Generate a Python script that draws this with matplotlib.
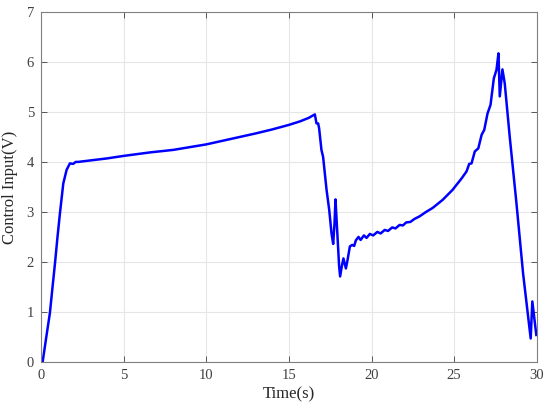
import matplotlib.pyplot as plt
import numpy as np

# time (s) and control input (V)
t = [0.1, 0.3, 0.54, 0.7, 0.85, 1.0, 1.15, 1.35, 1.55, 1.75, 1.95, 2.1, 2.26, 2.5, 3.0,
     4.0, 5.0, 6.6, 8.0, 10.0, 11.5, 13.0, 14.0, 15.0, 15.67, 16.2, 16.57,
     16.67, 16.77, 16.83, 16.97, 17.07, 17.28, 17.44, 17.58, 17.68, 17.76, 17.82,
     17.92, 18.04, 18.1, 18.2, 18.3, 18.45, 18.55, 18.69, 18.83, 18.95, 19.05,
     19.21, 19.34, 19.54, 19.7, 19.9, 20.1, 20.35, 20.55, 20.8, 21.0, 21.25,
     21.45, 21.7, 21.9, 22.1, 22.35, 22.6, 22.9, 23.3, 23.7,
     24.3, 24.9, 25.45, 25.75, 25.91, 26.05, 26.25, 26.46, 26.66, 26.82, 27.02,
     27.2, 27.4, 27.56, 27.68, 27.76, 27.92, 28.06, 28.36, 28.77, 29.17, 29.63,
     29.73, 29.97]
u = [0.0, 0.45, 0.98, 1.5, 1.98, 2.5, 2.98, 3.57, 3.84, 3.97, 3.96, 4.0, 4.0, 4.01, 4.03,
     4.07, 4.12, 4.19, 4.24, 4.35, 4.46, 4.57, 4.65, 4.74, 4.81, 4.88, 4.95,
     4.77, 4.77, 4.67, 4.24, 4.1, 3.44, 3.04, 2.57, 2.36, 2.77, 3.25,
     2.64, 1.91, 1.71, 1.91, 2.07, 1.87, 2.04, 2.31, 2.34, 2.32, 2.43,
     2.50, 2.44, 2.53, 2.48, 2.56, 2.53, 2.60, 2.57, 2.64, 2.62, 2.69,
     2.67, 2.74, 2.73, 2.79, 2.80, 2.86, 2.91, 3.0, 3.08,
     3.24, 3.44, 3.67, 3.81, 3.96, 3.97, 4.21, 4.27, 4.54, 4.64, 4.97,
     5.14, 5.67, 5.84, 6.17, 5.31, 5.85, 5.57, 4.51, 3.17, 1.77, 0.47,
     1.21, 0.54]

plt.rcParams['font.family'] = 'Liberation Serif'
fig = plt.figure(figsize=(5.5, 4.09), dpi=100)
ax = fig.add_axes([0.0745, 0.115, 0.9015, 0.856])

ax.plot(t, u, color=(0, 0, 1), linewidth=1.8)

ax.set_xlim(0, 30)
ax.set_ylim(0, 7)
ax.set_xticks(np.arange(0, 31, 5))
ax.set_yticks(np.arange(0, 8, 1))
ax.grid(True, color='#e6e6e6', linewidth=0.8)
ax.set_axisbelow(True)
ax.tick_params(direction='in', top=True, right=True, labelsize=10.5,
               colors='#404040', length=4, width=0.6, pad=5)
for s in ax.spines.values():
    s.set_color('#808080')
    s.set_linewidth(0.8)

ax.set_xlabel('Time(s)', fontsize=12, labelpad=3, color='#262626')
ax.set_ylabel('Control Input(V)', fontsize=12, labelpad=6, color='#262626')

fig.savefig('out.png', dpi=100)
